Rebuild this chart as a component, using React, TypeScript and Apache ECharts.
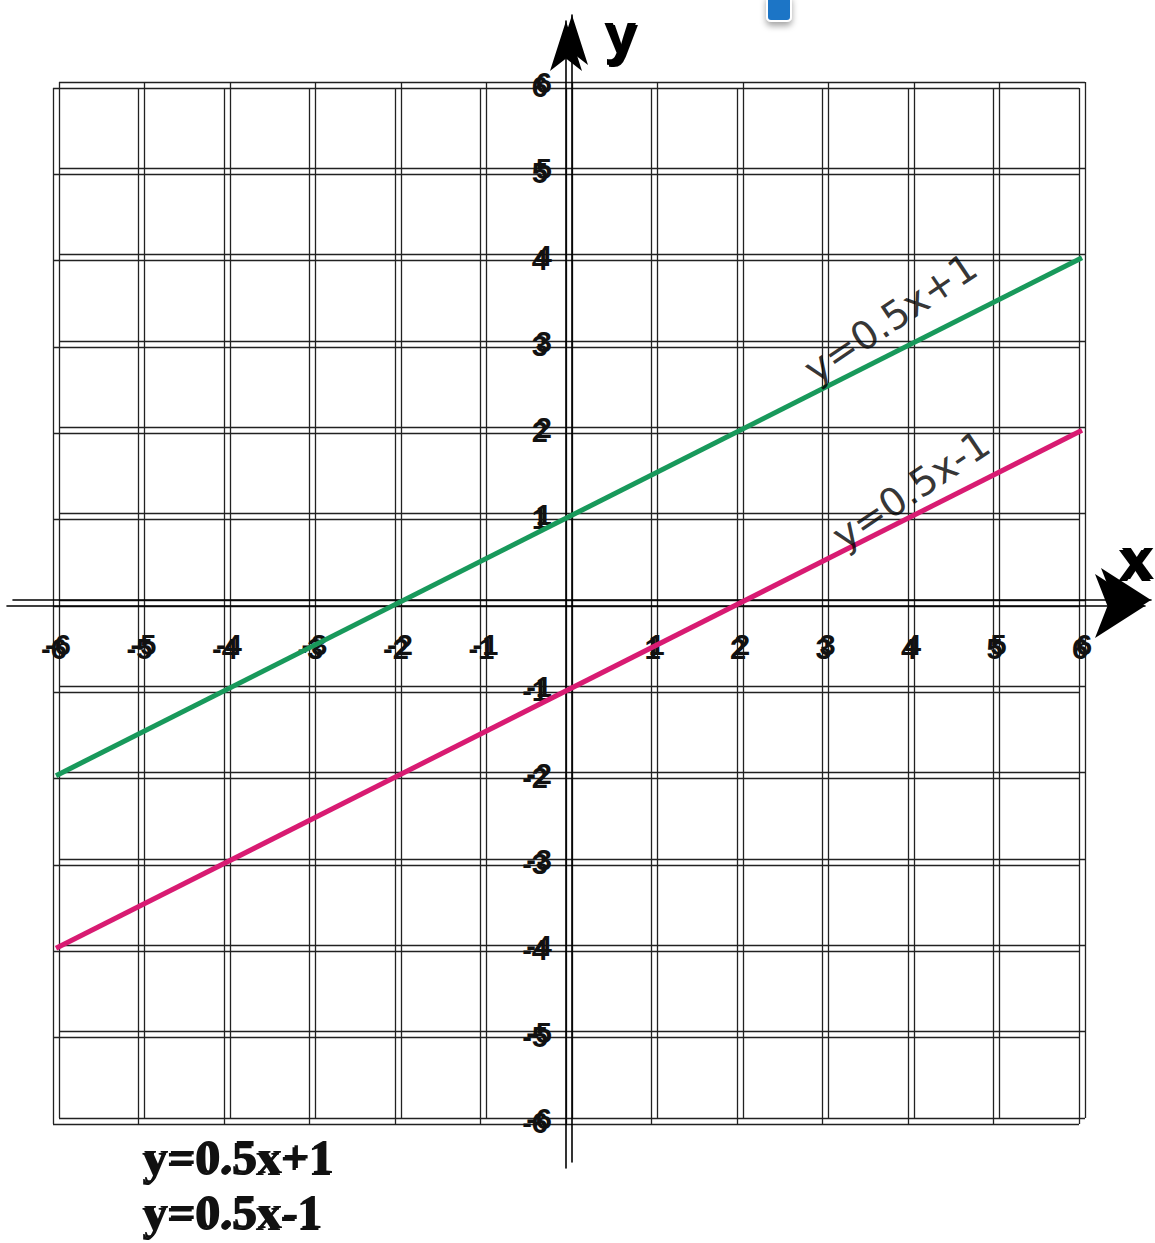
import React, { useEffect, useRef } from "react";
import * as echarts from "echarts";

// ---- data ----
const xEnds = [-6, 6];
const greenY = [-2, 4]; // y = 0.5x + 1
const pinkY = [-4, 2]; // y = 0.5x - 1
const tickValues = [-6, -5, -4, -3, -2, -1, 0, 1, 2, 3, 4, 5, 6];
const lineLabels = ["y=0.5x+1", "y=0.5x-1"];
const greenLabelAt = [3.76, 3.3];
const pinkLabelAt = [4.0, 1.31];
const axisTitles = ["x", "y"];

const GREEN = "#18995b";
const PINK = "#d81b72";

// main grid geometry (data grid)
const G = { left: 56, top: 85, width: 1026, height: 1036 };
// extended axes geometry
const AX = { left: 10, top: 18, right: 7, bottom: 78 };
const AXR = { xmin: -6.538, xmax: 6.772, ymin: -6.51, ymax: 6.776 };

export default function App() {
  const ref = useRef<HTMLDivElement>(null);
  useEffect(() => {
    if (!ref.current) return;
    const chart = echarts.init(ref.current, undefined, { renderer: "svg" });
    const offsets = [
      [-2, 2],
      [2, -2],
    ];
    const labelFont = {
      fontFamily: "Liberation Sans",
      fontWeight: "bold" as const,
      fontSize: 29,
      color: "#111",
    };
    const fmt = (v: number) => (v === 0 ? "" : String(v));
    const grids: any[] = [{ left: G.left, top: G.top, width: G.width, height: G.height }];
    const xAxes: any[] = [
      { type: "value", gridIndex: 0, min: -6, max: 6, interval: 1, show: false },
    ];
    const yAxes: any[] = [
      { type: "value", gridIndex: 0, min: -6, max: 6, interval: 1, show: false },
    ];
    offsets.forEach(([dx, dy], k) => {
      const gdx = dx * 1.5;
      const gdy = dy * 1.5;
      // grid lines + doubled tick labels
      const gi = grids.length;
      grids.push({ left: G.left + dx, top: G.top + dy, width: G.width, height: G.height });
      xAxes.push({
        type: "value",
        gridIndex: gi,
        position: "bottom",
        offset: -G.height / 2,
        min: tickValues[0],
        max: tickValues[tickValues.length - 1],
        interval: 1,
        axisLine: { show: false, onZero: false },
        axisTick: { show: false },
        axisLabel: { ...labelFont, margin: 29, formatter: fmt },
        splitLine: { show: false },
      });
      yAxes.push({
        type: "value",
        gridIndex: gi,
        position: "left",
        offset: -G.width / 2,
        min: tickValues[0],
        max: tickValues[tickValues.length - 1],
        interval: 1,
        axisLine: { show: false, onZero: false },
        axisTick: { show: false },
        axisLabel: { ...labelFont, margin: 19, formatter: fmt },
        splitLine: { show: false },
      });
      // grid lines (offset a little more)
      const li = grids.length;
      grids.push({ left: G.left + gdx, top: G.top + gdy, width: G.width, height: G.height });
      xAxes.push({
        type: "value",
        gridIndex: li,
        min: tickValues[0],
        max: tickValues[tickValues.length - 1],
        interval: 1,
        axisLine: { show: false, onZero: false },
        axisTick: { show: false },
        axisLabel: { show: false },
        splitLine: { show: true, lineStyle: { color: "#222", width: 1.3 } },
      });
      yAxes.push({
        type: "value",
        gridIndex: li,
        min: tickValues[0],
        max: tickValues[tickValues.length - 1],
        interval: 1,
        axisLine: { show: false, onZero: false },
        axisTick: { show: false },
        axisLabel: { show: false },
        splitLine: { show: true, lineStyle: { color: "#222", width: 1.3 } },
      });
      // extended axis lines with arrows
      const ai = grids.length;
      grids.push({
        left: AX.left + gdx,
        top: AX.top + gdy,
        right: AX.right - gdx,
        bottom: AX.bottom - gdy,
      });
      xAxes.push({
        type: "value",
        gridIndex: ai,
        min: AXR.xmin,
        max: AXR.xmax,
        axisLine: {
          show: true,
          onZero: true,
          symbol: ["none", "arrow"],
          symbolSize: [48, 50],
          lineStyle: { color: "#000", width: 1.6 },
        },
        axisTick: { show: false },
        axisLabel: { show: false },
        splitLine: { show: false },
      });
      yAxes.push({
        type: "value",
        gridIndex: ai,
        min: AXR.ymin,
        max: AXR.ymax,
        axisLine: {
          show: true,
          onZero: true,
          symbol: ["none", "arrow"],
          symbolSize: [24, 50],
          lineStyle: { color: "#000", width: 1.6 },
        },
        axisTick: { show: false },
        axisLabel: { show: false },
        splitLine: { show: false },
      });
    });

    const rotLabel = (text: string) => ({
      show: true,
      position: "inside",
      rotate: 34,
      formatter: text,
      fontFamily: "DejaVu Sans",
      fontSize: 39,
      color: "#000",
    });

    const legendTexts: any[] = [];
    [
      [0, 0],
      [2, -2],
    ].forEach(([dx, dy]) => {
      lineLabels.forEach((t, i) => {
        legendTexts.push({
          type: "text",
          left: 142 + dx,
          top: 1134 + i * 55 + dy,
          style: {
            text: t,
            font: "bold 49px 'Liberation Serif'",
            fill: "#111",
          },
        });
      });
    });

    chart.setOption({
      animation: false,
      backgroundColor: "#fff",
      grid: grids,
      xAxis: xAxes,
      yAxis: yAxes,
      series: [
        {
          type: "line",
          xAxisIndex: 0,
          yAxisIndex: 0,
          data: xEnds.map((x, i) => [x, greenY[i]]),
          symbol: "none",
          lineStyle: { color: GREEN, width: 5 },
          z: 5,
        },
        {
          type: "line",
          xAxisIndex: 0,
          yAxisIndex: 0,
          data: xEnds.map((x, i) => [x, pinkY[i]]),
          symbol: "none",
          lineStyle: { color: PINK, width: 5 },
          z: 5,
        },
        {
          type: "scatter",
          xAxisIndex: 0,
          yAxisIndex: 0,
          symbolSize: 0,
          data: [greenLabelAt],
          label: rotLabel(lineLabels[0]),
          z: 6,
        },
        {
          type: "scatter",
          xAxisIndex: 0,
          yAxisIndex: 0,
          symbolSize: 0,
          data: [pinkLabelAt],
          label: rotLabel(lineLabels[1]),
          z: 6,
        },
      ],
      graphic: [
        ...legendTexts,
        {
          type: "text",
          left: 606,
          top: 5,
          style: { text: axisTitles[1], font: "bold 58px 'Liberation Sans'", fill: "#000" },
        },
        {
          type: "text",
          left: 604,
          top: 3,
          style: { text: axisTitles[1], font: "bold 58px 'Liberation Sans'", fill: "#000" },
        },
        {
          type: "text",
          left: 1118,
          top: 530,
          style: { text: axisTitles[0], font: "bold 60px 'Liberation Sans'", fill: "#000" },
        },
        {
          type: "text",
          left: 1121,
          top: 528,
          style: { text: axisTitles[0], font: "bold 60px 'Liberation Sans'", fill: "#000" },
        },
        {
          type: "rect",
          left: 766,
          top: -6,
          shape: { width: 24, height: 26, r: 4 },
          style: {
            fill: "#1f74c6",
            stroke: "#fff",
            lineWidth: 2,
            shadowBlur: 6,
            shadowOffsetY: 4,
            shadowColor: "rgba(0,0,0,0.35)",
          },
        },
      ],
    });
    return () => chart.dispose();
  }, []);
  return (
    <div
      ref={ref}
      style={{ position: "fixed", left: 0, top: 0, width: 1155, height: 1243 }}
    />
  );
}
